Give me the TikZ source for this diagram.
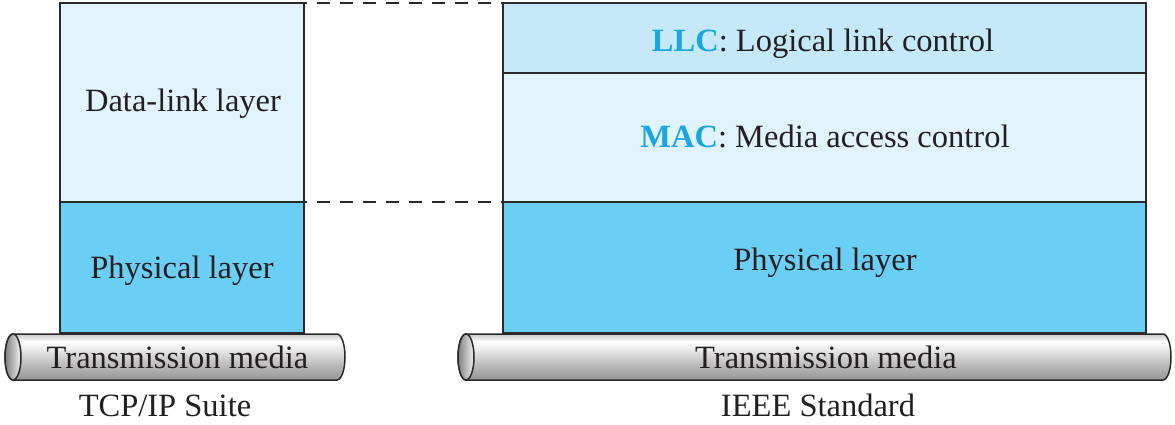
\documentclass[tikz,border=0pt]{standalone}
\usepackage{fontspec}
\setmainfont{Liberation Serif}
\definecolor{txt}{HTML}{231F20}
\definecolor{edge}{HTML}{2A2A2A}
\definecolor{physfill}{HTML}{6BCEF5}
\definecolor{lightfill}{HTML}{E1F3FC}
\definecolor{llcfill}{HTML}{C6E9FA}
\definecolor{acc}{HTML}{1AA7E1}
\pgfdeclareverticalshading{tubeshade}{100bp}{color(0bp)=(black!42); color(25bp)=(black!42); color(42bp)=(black!26); color(60bp)=(black!7); color(67bp)=(white); color(75bp)=(black!22); color(100bp)=(black!22)}
\begin{document}
\begin{tikzpicture}[x=1pt,y=-1pt,line width=1.8pt,
  every node/.style={text=txt,font=\fontsize{32.5}{38}\selectfont},
  layerbox/.style={draw=edge,inner sep=0pt,outer sep=0pt},
  txtlabel/.style={anchor=base},
  dashline/.style={draw=edge,line width=1.6pt,dash pattern=on 13pt off 10pt,dash phase=-13pt},
  cylbody/.style={draw=edge,line width=1.5pt,shading=tubeshade},
  cylend/.style={draw=edge,line width=1.5pt,left color=black!50,right color=black!5}]
\useasboundingbox (0,0) rectangle (1175,425);
% left stack
\node[layerbox,fill=lightfill,minimum width=244pt,minimum height=199pt] (dl) at (182,102.5) {};
\node[layerbox,fill=physfill,minimum width=244pt,minimum height=131pt] (phl) at (182,267.5) {};
\node[txtlabel] (dlt) at (183,112) {Data-link layer};
\node[txtlabel] (phlt) at (182,278) {Physical layer};
% right stack
\node[layerbox,fill=llcfill,minimum width=643pt,minimum height=70pt] (llc) at (824.5,38) {};
\node[layerbox,fill=lightfill,minimum width=643pt,minimum height=129pt] (mac) at (824.5,137.5) {};
\node[layerbox,fill=physfill,minimum width=643pt,minimum height=131pt] (phr) at (824.5,267.5) {};
\node[txtlabel] (llct) at (823,52) {\textbf{\textcolor{acc}{LLC}}: Logical link control};
\node[txtlabel] (mact) at (825,148) {\textbf{\textcolor{acc}{MAC}}: Media access control};
\node[txtlabel] (phrt) at (825,270) {Physical layer};
% dashed connectors
\draw[dashline] (dl.north east) -- (llc.north west);
\draw[dashline] (dl.south east) -- (mac.south west);
% left cylinder
\path[cylbody] (13,334) -- (337,334) arc[start angle=-90,end angle=90,x radius=8,y radius=23] -- (13,380) arc[start angle=90,end angle=270,x radius=8,y radius=23] -- cycle;
\path[cylend] (13,357) ellipse[x radius=8,y radius=23];
\node[txtlabel] (tml) at (177.5,368) {Transmission media};
% right cylinder
\path[cylbody] (466,334) -- (1163,334) arc[start angle=-90,end angle=90,x radius=8,y radius=23] -- (466,380) arc[start angle=90,end angle=270,x radius=8,y radius=23] -- cycle;
\path[cylend] (466,357) ellipse[x radius=8,y radius=23];
\node[txtlabel] (tmr) at (826,368) {Transmission media};
% captions
\node[txtlabel] (capl) at (165,416) {TCP/IP Suite};
\node[txtlabel] (capr) at (818,416) {IEEE Standard};
\end{tikzpicture}
\end{document}
